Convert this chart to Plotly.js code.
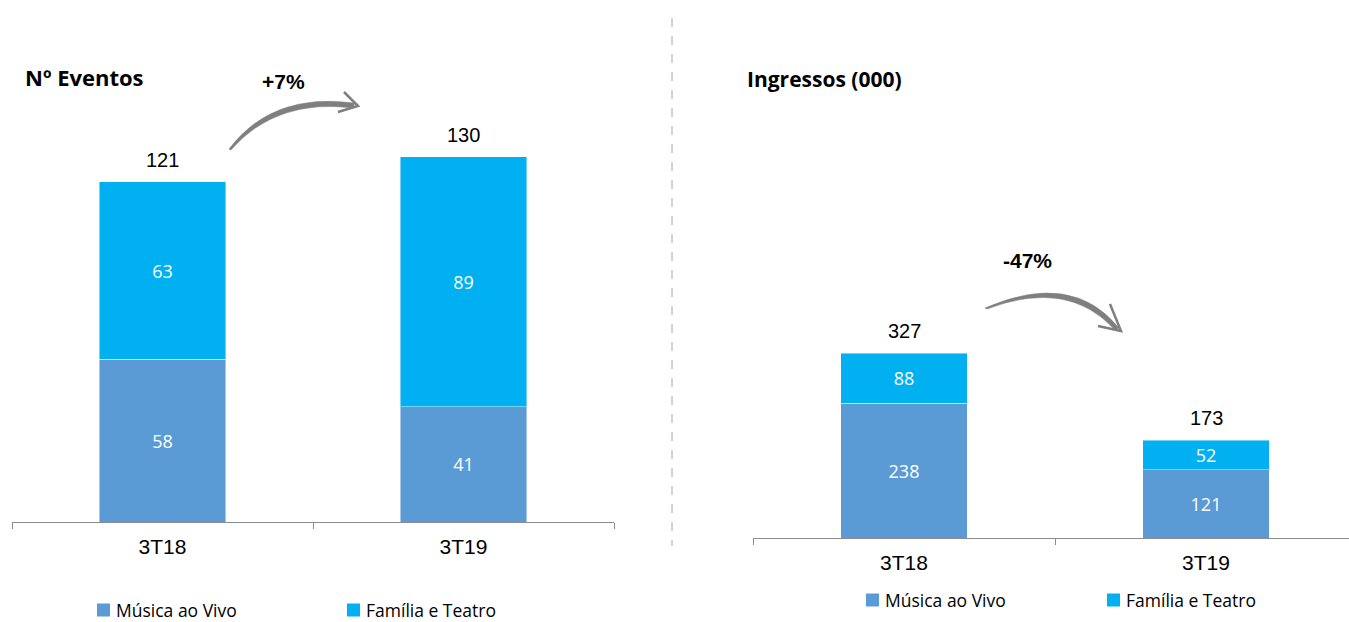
<!DOCTYPE html>
<html>
<head>
<meta charset="utf-8">
<script src="https://cdn.plot.ly/plotly-3.0.1.min.js"></script>
<style>html,body{margin:0;padding:0;background:#fff;overflow:hidden;}#chart{width:1349px;height:622px;}</style>
</head>
<body>
<div id="chart"></div>
<script>
const categories = ['3T18', '3T19'];
const eventosMusica = [58, 41];
const eventosFamilia = [63, 89];
const eventosTotal = [121, 130];
const ingressosMusica = [238, 121];
const ingressosFamilia = [88, 52];
const ingressosTotal = [327, 173];
const seriesNames = ['Música ao Vivo', 'Família e Teatro'];
const growthLabels = ['+7%', '-47%'];
const panelTitles = ['Nº Eventos', 'Ingressos (000)'];

const W = 1349, H = 622;
const cMusica = '#5B9BD5', cFamilia = '#00B0F0';
const seriesColors = [cMusica, cFamilia];
const px = (x) => x / W;
const py = (y) => 1 - y / H;
const P = (x, y) => `${px(x)} ${py(y)}`;

function barTrace(y, name, color, xa, ya) {
  return {
    type: 'bar', x: categories, y: y, name: name,
    xaxis: xa, yaxis: ya, showlegend: false,
    marker: {color: color, line: {color: 'rgba(255,255,255,0.45)', width: 1}},
    text: y.map(String), textposition: 'inside', insidetextanchor: 'middle',
    textangle: 0, constraintext: 'none',
    textfont: {family: 'Open Sans, sans-serif', size: 18, color: '#ffffff'},
    hoverinfo: 'skip'
  };
}

const data = [
  barTrace(eventosMusica, seriesNames[0], cMusica, 'x', 'y'),
  barTrace(eventosFamilia, seriesNames[1], cFamilia, 'x', 'y'),
  barTrace(ingressosMusica, seriesNames[0], cMusica, 'x2', 'y2'),
  barTrace(ingressosFamilia, seriesNames[1], cFamilia, 'x2', 'y2')
];

function totalAnn(xref, yref, vals) {
  return vals.map((v, i) => ({
    xref: xref, yref: yref, x: categories[i], y: v, text: String(v),
    showarrow: false, yanchor: 'bottom', yshift: 9,
    font: {family: 'Liberation Sans, Arial, sans-serif', size: 20, color: '#000'}
  }));
}

const xaxisCommon = {
  type: 'category', showgrid: false, zeroline: false, showline: true,
  linecolor: '#8c8c8c', linewidth: 1, ticks: 'outside', tickson: 'boundaries',
  ticklen: 6, tickcolor: '#8c8c8c', ticklabelstandoff: 6,
  tickfont: {family: 'Liberation Sans, Arial, sans-serif', size: 21, color: '#000'},
  fixedrange: true
};

// custom legends (swatch + text), positions in pixels
const legendRows = [
  {y: 610, xs: [97, 347]},
  {y: 600, xs: [866, 1107]}
];
const legendShapes = [], legendAnns = [];
legendRows.forEach(r => {
  r.xs.forEach((x, k) => {
    legendShapes.push({type: 'rect', xref: 'paper', yref: 'paper',
      x0: px(x), x1: px(x + 13), y0: py(r.y + 6.5), y1: py(r.y - 6.5),
      fillcolor: seriesColors[k], line: {width: 0}});
    legendAnns.push({xref: 'paper', yref: 'paper', x: px(x + 17), y: py(r.y),
      xanchor: 'left', yanchor: 'middle', showarrow: false, text: seriesNames[k],
      font: {family: 'Open Sans, sans-serif', size: 17.5, color: '#000'}});
  });
});

const arrowFill = '#7f7f7f';
const arrowLine = {color: '#7f7f7f', width: 2.5};

const layout = {
  width: W, height: H, margin: {l: 0, r: 0, t: 0, b: 0, autoexpand: false},
  paper_bgcolor: '#fff', plot_bgcolor: 'rgba(0,0,0,0)',
  barmode: 'stack', bargap: 0.58, showlegend: false,
  xaxis: Object.assign({}, xaxisCommon, {domain: [px(12), px(614)], range: [-0.5, 1.5], anchor: 'y'}),
  yaxis: {domain: [py(522), py(100.5)], range: [0, 150], visible: false, fixedrange: true, anchor: 'x'},
  xaxis2: Object.assign({}, xaxisCommon, {domain: [px(753), 1], range: [-0.5, 1.5 - 8 / 302], anchor: 'y2'}),
  yaxis2: {domain: [py(538), py(198.4)], range: [0, 600], visible: false, fixedrange: true, anchor: 'x2'},
  annotations: [
    ...totalAnn('x', 'y', eventosTotal),
    ...totalAnn('x2', 'y2', ingressosTotal),
    {xref: 'paper', yref: 'paper', x: px(23), y: py(77), xanchor: 'left', yanchor: 'middle',
     text: panelTitles[0], showarrow: false,
     font: {family: 'Open Sans, sans-serif', size: 22, color: '#000', weight: 'bold'}},
    {xref: 'paper', yref: 'paper', x: px(745), y: py(79), xanchor: 'left', yanchor: 'middle',
     text: panelTitles[1], showarrow: false,
     font: {family: 'Open Sans, sans-serif', size: 21, color: '#000', weight: 'bold'}},
    {xref: 'paper', yref: 'paper', x: px(283), y: py(81), xanchor: 'center', yanchor: 'middle',
     text: growthLabels[0], showarrow: false,
     font: {family: 'Liberation Sans, Arial, sans-serif', size: 21, color: '#000', weight: 'bold'}},
    {xref: 'paper', yref: 'paper', x: px(1027), y: py(260), xanchor: 'center', yanchor: 'middle',
     text: growthLabels[1], showarrow: false,
     font: {family: 'Liberation Sans, Arial, sans-serif', size: 21, color: '#000', weight: 'bold'}},
    ...legendAnns
  ],
  shapes: [
    {type: 'line', xref: 'paper', yref: 'paper', x0: px(672), x1: px(672), y0: py(18), y1: py(546),
     line: {color: '#a6a6a6', width: 1, dash: 'dash'}},
    // +7% arrow (tapered stroke)
    {type: 'path', xref: 'paper', yref: 'paper',
     path: `M ${P(229, 149)} Q ${P(272, 92)} ${P(354, 103)} L ${P(354, 108)} Q ${P(276, 98)} ${P(231, 150)} Z`,
     fillcolor: arrowFill, line: {color: arrowFill, width: 0.5}},
    {type: 'path', xref: 'paper', yref: 'paper',
     path: `M ${P(344, 92)} L ${P(358, 106)} L ${P(338, 112)}`,
     line: arrowLine},
    // -47% arrow (tapered stroke)
    {type: 'path', xref: 'paper', yref: 'paper',
     path: `M ${P(985, 308)} Q ${P(1072, 270)} ${P(1119, 328)} L ${P(1115, 330)} Q ${P(1068, 278)} ${P(987, 309)} Z`,
     fillcolor: arrowFill, line: {color: arrowFill, width: 0.5}},
    {type: 'path', xref: 'paper', yref: 'paper',
     path: `M ${P(1110, 304)} L ${P(1121, 331)} L ${P(1098, 326)}`,
     line: arrowLine},
    ...legendShapes
  ]
};

Plotly.newPlot('chart', data, layout, {displayModeBar: false, staticPlot: true});
</script>
</body>
</html>
